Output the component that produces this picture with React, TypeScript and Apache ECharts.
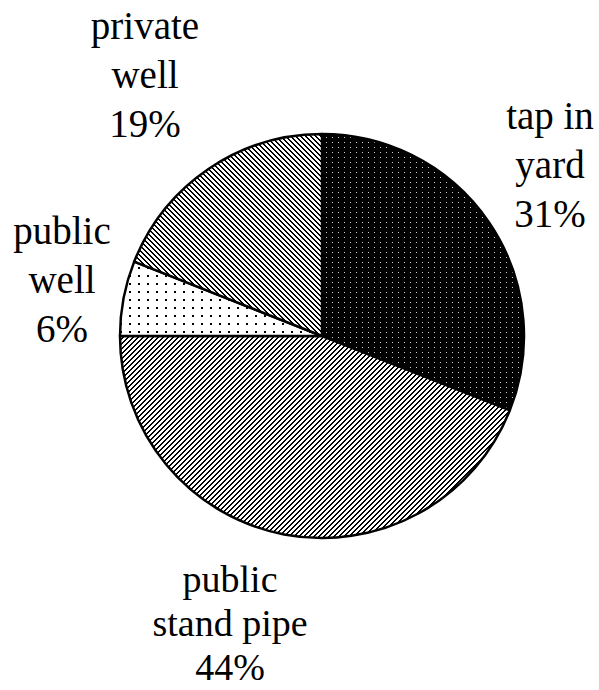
import React, { useEffect, useRef } from "react";
import * as echarts from "echarts";

const categories = ["tap in yard", "public stand pipe", "public well", "private well"];
const labelTexts = ["tap in\nyard", "public\nstand pipe", "public\nwell", "private\nwell"];
const values = [31, 44, 6, 19];

function makeTile(kind: string): HTMLCanvasElement {
  const c = document.createElement("canvas");
  let w = 5, h = 5;
  if (kind === "dotsDark") { w = 6; h = 5; }
  if (kind === "dotsLight") { w = 9; h = 8; }
  c.width = w; c.height = h;
  const ctx = c.getContext("2d")!;
  if (kind === "dotsDark") {
    ctx.fillStyle = "#000"; ctx.fillRect(0, 0, w, h);
    ctx.fillStyle = "#d0d0d0"; ctx.fillRect(2, 2, 1, 1);
  } else if (kind === "dotsLight") {
    ctx.fillStyle = "#fff"; ctx.fillRect(0, 0, w, h);
    ctx.fillStyle = "#000"; ctx.fillRect(3, 3, 2, 2);
  } else {
    ctx.fillStyle = "#fff"; ctx.fillRect(0, 0, w, h);
    ctx.fillStyle = "#000";
    for (let i = 0; i < w; i++) {
      const y = kind === "back" ? i : (h - 1 - i);
      ctx.fillRect(i, y, 1, 1);
      ctx.fillRect(i, (y + 1) % h, 1, 1);
    }
  }
  return c;
}

const labelPos: Record<string, [number, number]> = {
  "tap in yard": [550, 164],
  "public stand pipe": [230, 623],
  "public well": [62, 279],
  "private well": [145, 74],
};

export default function App() {
  const ref = useRef<HTMLDivElement>(null);
  useEffect(() => {
    if (!ref.current) return;
    const chart = echarts.init(ref.current, null, { renderer: "svg" });
    const kinds = ["dotsDark", "fwd", "dotsLight", "back"];
    const pat = (k: string) => {
      const t = makeTile(k);
      return { image: t, repeat: "repeat", imageWidth: t.width, imageHeight: t.height } as any;
    };
    const data = categories.map((name, i) => {
      const bottom = name === "public stand pipe";
      return {
        name,
        value: values[i],
        itemStyle: { color: pat(kinds[i]) },
        label: {
          formatter: labelTexts[i] + "\n" + values[i] + "%",
          lineHeight: bottom ? 44 : 49,
          fontSize: bottom ? 38 : 39,
        },
      };
    });
    chart.setOption({
      animation: false,
      backgroundColor: "#fff",
      series: [
        {
          type: "pie",
          center: [322, 336],
          radius: 202,
          startAngle: 90,
          clockwise: true,
          silent: true,
          itemStyle: { borderColor: "#000", borderWidth: 2.5 },
          label: {
            show: true,
            position: "outside",
            fontFamily: "Liberation Serif",
            fontSize: 39,
            lineHeight: 49,
            color: "#000",
            align: "center",
            overflow: "none",
            width: 300,
          },
          labelLine: { show: false },
          labelLayout: (params: any) => {
            const p = labelPos[categories[params.dataIndex]];
            return { x: p[0], y: p[1], align: "center", verticalAlign: "middle" };
          },
          data,
        },
      ],
    });
    return () => chart.dispose();
  }, []);
  return (
    <div
      ref={ref}
      style={{ position: "fixed", left: 0, top: 0, width: 599, height: 690, background: "#fff" }}
    />
  );
}
